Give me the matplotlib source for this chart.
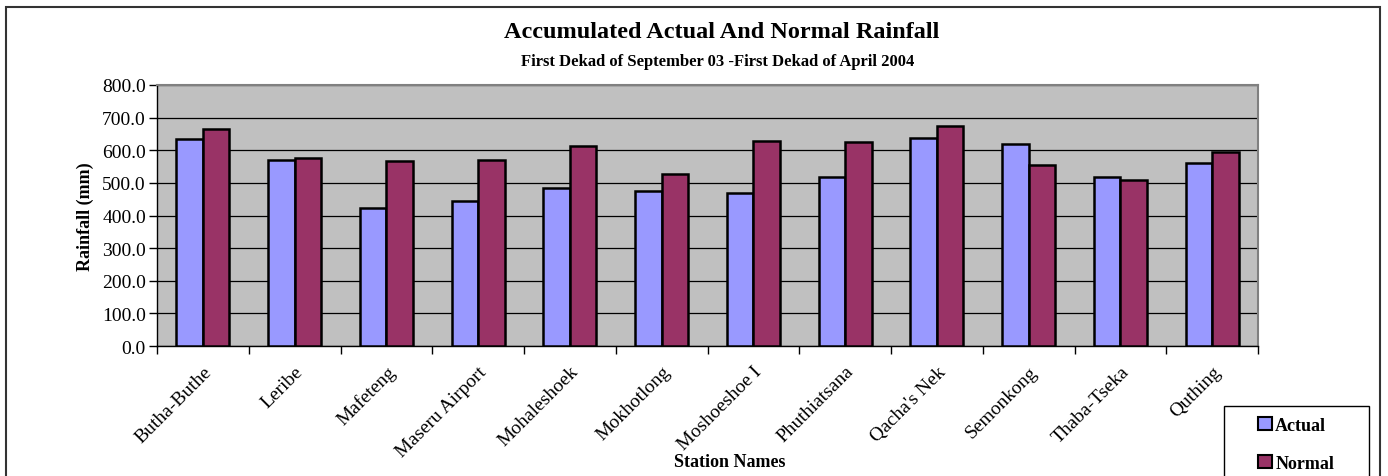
import numpy as np
import matplotlib
matplotlib.use('Agg')
import matplotlib.pyplot as plt
from matplotlib.patches import Rectangle, Patch

stations = ['Butha-Buthe', 'Leribe', 'Mafeteng', 'Maseru Airport', 'Mohaleshoek',
            'Mokhotlong', 'Moshoeshoe I', 'Phuthiatsana', "Qacha's Nek", 'Semonkong',
            'Thaba-Tseka', 'Quthing']
actual = [634, 569, 422, 443, 485, 475, 469, 519, 637, 620, 519, 561]
normal = [665, 577, 567, 569, 614, 526, 627, 625, 674, 555, 509, 594]

plt.rcParams['font.family'] = ['Liberation Serif', 'DejaVu Serif']

W, H = 1388, 477
fig = plt.figure(figsize=(W / 100, H / 100), dpi=100)
fig.patch.set_facecolor('white')

# outer chart border
fig.add_artist(Rectangle((6 / W, -0.1), 1374 / W, 1.1 - 8 / H, transform=fig.transFigure,
                         fill=False, edgecolor='#333333', linewidth=1.5))

ax = fig.add_axes([157 / W, 1 - 347 / H, (1258 - 157) / W, (347 - 86) / H])
ax.set_facecolor('#C0C0C0')

x = np.arange(len(stations))
w = 0.29
ax.bar(x - w / 2, actual, w, color='#9999FF', edgecolor='black', linewidth=1.8, label='Actual', zorder=3)
ax.bar(x + w / 2, normal, w, color='#993366', edgecolor='black', linewidth=1.8, label='Normal', zorder=3)

ax.set_ylim(0, 800)
ax.set_xlim(-0.5, len(stations) - 0.5)
ax.set_yticks(np.arange(0, 801, 100))
ax.set_yticklabels(['%.1f' % v for v in np.arange(0, 801, 100)], fontsize=14)
ax.yaxis.grid(True, color='black', linewidth=0.9, zorder=0)
ax.set_axisbelow(True)

ax.set_xticks(x)
ax.set_xticklabels(stations, rotation=45, ha='right', va='top', rotation_mode='anchor', fontsize=14)
ax.set_xticks(np.arange(-0.5, len(stations), 1), minor=True)
ax.tick_params(axis='x', which='major', length=0, pad=12)
ax.tick_params(axis='x', which='minor', length=6, width=1)
ax.tick_params(axis='y', length=6, width=1, pad=2)

for s in ['top', 'right']:
    ax.spines[s].set_color('#808080')
    ax.spines[s].set_linewidth(1.5)
for s in ['left', 'bottom']:
    ax.spines[s].set_color('black')
    ax.spines[s].set_linewidth(1.0)

ax.set_ylabel('Rainfall (mm)', fontsize=13, fontweight='bold', labelpad=6)
fig.text(730 / W, 1 - 463 / H, 'Station Names', fontsize=13, fontweight='bold',
         ha='center', va='center')

fig.text(722 / W, 1 - 33 / H, 'Accumulated Actual And Normal Rainfall', fontsize=17.5,
         fontweight='bold', ha='center', va='center')
fig.text(718 / W, 1 - 62 / H, 'First Dekad of September 03 -First Dekad of April 2004', fontsize=12,
         fontweight='bold', ha='center', va='center')

# legend box
fig.add_artist(Rectangle((1224 / W, -0.1), 145 / W, 0.1 + (477 - 407) / H, transform=fig.transFigure,
                         facecolor='white', edgecolor='black', linewidth=1.0))
handles = [Patch(facecolor='#9999FF', edgecolor='black', linewidth=1.5, label='Actual'),
           Patch(facecolor='#993366', edgecolor='black', linewidth=1.5, label='Normal')]
fig.legend(handles=handles, loc='upper left', bbox_to_anchor=(1258 / W, 1 - 418 / H),
           frameon=False, prop={'weight': 'bold', 'size': 13}, handlelength=0.75,
           handleheight=0.75, handletextpad=0.2, labelspacing=1.15, borderpad=0,
           borderaxespad=0)

fig.savefig('out.png', dpi=100)
